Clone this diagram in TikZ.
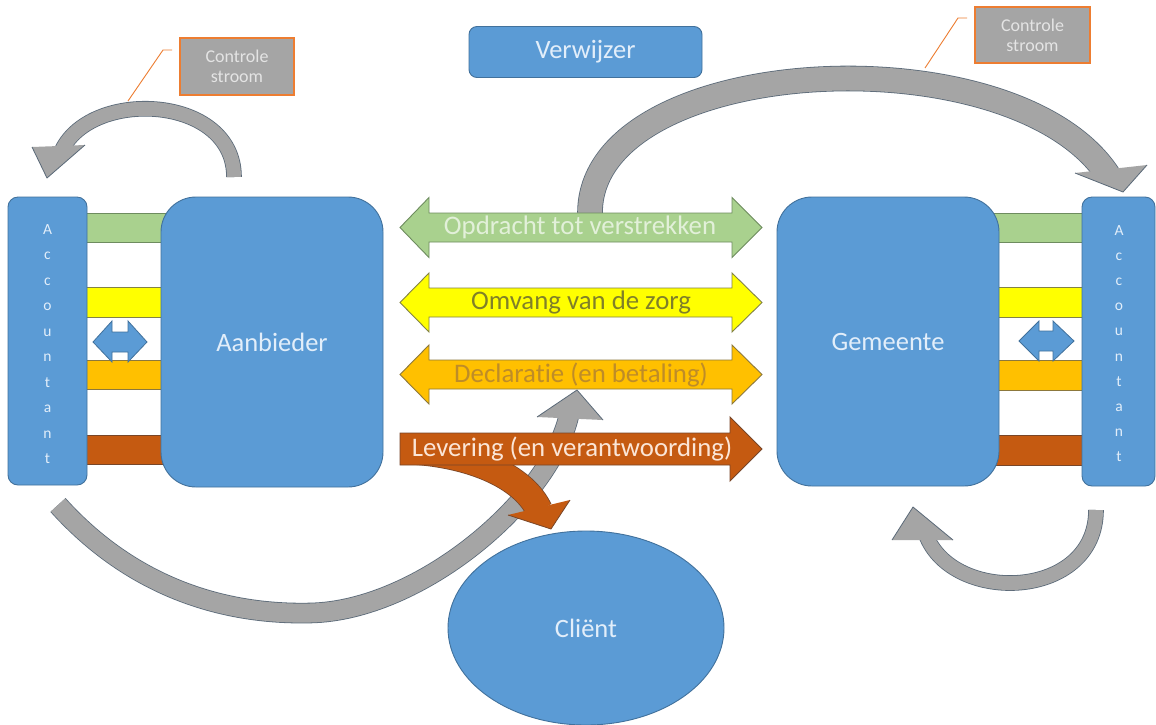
\documentclass[tikz,border=0pt]{standalone}
\usepackage{fontspec}
\setmainfont{Carlito}[Ligatures=NoCommon]
\usetikzlibrary{shapes.geometric}
\definecolor{bfill}{RGB}{91,155,213}
\definecolor{bline}{RGB}{65,113,156}
\definecolor{btext}{RGB}{226,238,250}
\definecolor{gfill}{RGB}{169,209,142}
\definecolor{gline}{RGB}{110,140,95}
\definecolor{gtext}{RGB}{226,240,217}
\definecolor{yfill}{RGB}{255,255,0}
\definecolor{yline}{RGB}{130,130,70}
\definecolor{ytext}{RGB}{128,128,40}
\definecolor{ofill}{RGB}{255,192,0}
\definecolor{oline}{RGB}{140,120,60}
\definecolor{otext}{RGB}{190,140,40}
\definecolor{rfill}{RGB}{197,90,17}
\definecolor{rline}{RGB}{120,70,40}
\definecolor{rtext}{RGB}{251,229,214}
\definecolor{afill}{RGB}{165,165,165}
\definecolor{aline}{RGB}{90,105,120}
\definecolor{cline}{RGB}{237,125,49}
\definecolor{ctext}{RGB}{228,228,228}
\begin{document}
\begin{tikzpicture}[x=1pt,y=-1pt,
  bigbox/.style={draw=bline,fill=bfill,line width=0.9,rounded corners=35,
    text=btext,font=\fontsize{26.5}{31}\selectfont,inner sep=0},
  accbox/.style={draw=bline,fill=bfill,line width=0.9,rounded corners=10,inner sep=0},
  letter/.style={text=btext,font=\fontsize{15.5}{18}\selectfont,anchor=base,inner sep=0},
  bar/.style={line width=0.8},
  mid/.style={line width=0.9},
  midtext/.style={font=\fontsize{26.8}{31}\selectfont,inner sep=0},
  gshaft/.style={draw=aline,line width=0.8,double=afill,double distance=#1},
  rshaft/.style={draw=rline,line width=0.8,double=rfill,double distance=#1},
  callout/.style={draw=cline,fill=afill,line width=1.4,text=ctext,align=center,
    font=\fontsize{18}{20}\selectfont,inner sep=0},
  leader/.style={draw=cline,line width=0.9}]
\useasboundingbox (0,0) rectangle (1156,724);
\fill[white] (0,0) rectangle (1156,724);

% bars between accountant and boxes
\draw[bar,fill=gfill,draw=gline] (86,213) rectangle (185,242);
\draw[bar,fill=yfill,draw=yline] (86,287) rectangle (185,317);
\draw[bar,fill=ofill,draw=oline] (86,360) rectangle (185,389);
\draw[bar,fill=rfill,draw=rline] (86,435) rectangle (185,464);
\draw[bar,fill=gfill,draw=gline] (975,213) rectangle (1083,242);
\draw[bar,fill=yfill,draw=yline] (975,287) rectangle (1083,317);
\draw[bar,fill=ofill,draw=oline] (975,360) rectangle (1083,390);
\draw[bar,fill=rfill,draw=rline] (975,435) rectangle (1083,465);

% boxes
\node[accbox,minimum width=79,minimum height=288] (accL) at (47.5,341) {};
\node[accbox,minimum width=73,minimum height=289] (accR) at (1118.5,341.5) {};
\foreach \l [count=\i from 0] in {A,c,c,o,u,n,t,a,n,t}{
  \node[letter] (lL\i) at (47.5,234+25.5*\i) {\l};
  \node[letter] (lR\i) at (1119,235+25.2*\i) {\l};
}
\node[bigbox,minimum width=222,minimum height=290] (aanb) at (272,342) {Aanbieder};
\node[bigbox,minimum width=222,minimum height=289] (gem) at (888,341.5) {Gemeente};
\node[bigbox,rounded corners=8,minimum width=233,minimum height=51] (verw) at (585.5,52) {Verwijzer};

% small double arrows
\filldraw[fill=bfill,draw=bline,line width=0.8]
  (93,342) -- (112,321) -- (112,332) -- (128,332) -- (128,321) -- (147,342)
  -- (128,362) -- (128,352) -- (112,352) -- (112,362) -- cycle;
\filldraw[fill=bfill,draw=bline,line width=0.8]
  (1019,341) -- (1039,321) -- (1039,331) -- (1053,331) -- (1053,321) -- (1074,341)
  -- (1053,361) -- (1053,351) -- (1039,351) -- (1039,361) -- cycle;

% big control arc (top right)
\draw[gshaft=24] (590,213) .. controls (590,53) and (1012,30) .. (1108,175);
\fill[afill] (1075,173) -- (1147,165) -- (1123,192) -- cycle;
\draw[aline,line width=0.8,line join=round] (1075,173) -- (1123,192) -- (1147,165);

% top-left control arc
\draw[gshaft=14] (234,177) .. controls (234,95) and (92,88) .. (62,150);
\fill[afill] (32,147) -- (85,145) -- (47,178) -- cycle;
\draw[aline,line width=0.8,line join=round] (32,147) -- (47,178) -- (85,145);

% bottom-right arc
\draw[gshaft=14] (1096,510) .. controls (1096,600) and (953,605) .. (926,535);
\fill[afill] (892,540) -- (953,540) -- (913,507) -- cycle;
\draw[aline,line width=0.8,line join=round] (892,540) -- (913,507) -- (953,540);

% bottom-left arc to Declaratie
\draw[gshaft=19] (58,505) .. controls (130,585) and (220,615) .. (310,613)
  .. controls (420,611) and (550,500) .. (569,415);
\fill[afill] (537,417) -- (603,420) -- (577,390) -- cycle;
\draw[aline,line width=0.8,line join=round] (537,417) -- (577,390) -- (603,420);

% brown curved arrow to client
\draw[rshaft=26] (415,451) .. controls (480,456) and (525,480) .. (539,510);
\fill[rfill] (508,515) -- (570,500) -- (551,529) -- cycle;
\draw[rline,line width=0.8,line join=round] (508,515) -- (551,529) -- (570,500);

% middle arrows
\filldraw[mid,fill=gfill,draw=gline] (400,227.5) -- (429,197.5) -- (429,213) -- (732,213)
  -- (732,197.5) -- (762,227.5) -- (732,257.5) -- (732,242) -- (429,242) -- (429,257.5) -- cycle;
\node[midtext,text=gtext] (t1) at (580,227.5) {Opdracht tot verstrekken};
\filldraw[mid,fill=yfill,draw=yline] (400,302.5) -- (429,273) -- (429,288) -- (732,288)
  -- (732,273) -- (762,302.5) -- (732,332) -- (732,317) -- (429,317) -- (429,332) -- cycle;
\node[midtext,text=ytext] (t2) at (581,302.5) {Omvang van de zorg};
\filldraw[mid,fill=ofill,draw=oline] (400,374.5) -- (429,345) -- (429,360) -- (732,360)
  -- (732,345) -- (762,374.5) -- (732,404) -- (732,389) -- (429,389) -- (429,404) -- cycle;
\node[midtext,text=otext] (t3) at (581,374.5) {Declaratie (en betaling)};
\filldraw[mid,fill=rfill,draw=rline] (400,433) -- (730,433) -- (730,417) -- (762,449)
  -- (730,481) -- (730,465) -- (400,465) -- cycle;
\node[midtext,text=rtext] (t4) at (572,449) {Levering (en verantwoording)};

% client
\node[ellipse,draw=bline,fill=bfill,line width=0.9,minimum width=276,minimum height=194,
  text=btext,font=\fontsize{26.5}{31}\selectfont,inner sep=0] (client) at (586,628) {Cliënt};

% callouts
\node[callout,minimum width=114,minimum height=57] (callL) at (237,66.5) {Controle\\stroom};
\node[callout,minimum width=115,minimum height=56] (callR) at (1032.5,35) {Controle\\stroom};
\coordinate (aL) at (128,101);
\coordinate (aR) at (925,68);
\draw[leader] (aL) -- (163,50) -- (172,50);
\draw[leader] (aR) -- (958,18) -- (967,18);
\end{tikzpicture}
\end{document}
